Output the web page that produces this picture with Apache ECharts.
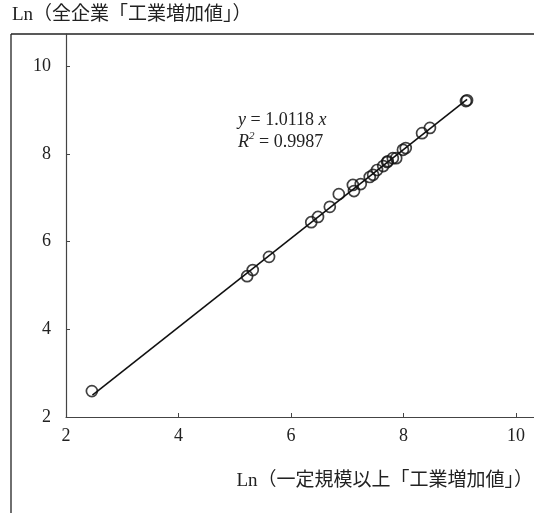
<!DOCTYPE html>
<html><head><meta charset="utf-8">
<script src="https://cdn.jsdelivr.net/npm/echarts@6/dist/echarts.min.js"></script>
<style>html,body{margin:0;padding:0;background:#fff}#c{width:534px;height:513px}</style>
</head><body><div id="c"></div>
<script>
const xName = 'Ln（一定規模以上「工業増加値」）';
const yName = 'Ln（全企業「工業増加値」）';
const xTicks = [2, 4, 6, 8, 10];
const yTicks = [2, 4, 6, 8, 10];
const points = [
  [2.46, 2.59], [5.22, 5.21], [5.32, 5.35], [5.61, 5.65], [6.36, 6.44],
  [6.48, 6.56], [6.69, 6.79], [6.85, 7.08], [7.10, 7.29], [7.12, 7.15],
  [7.24, 7.31], [7.40, 7.47], [7.46, 7.52], [7.53, 7.63], [7.64, 7.72],
  [7.71, 7.81], [7.72, 7.83], [7.81, 7.90], [7.87, 7.90], [7.99, 8.09],
  [8.04, 8.13], [8.33, 8.47], [8.47, 8.59], [9.11, 9.20], [9.13, 9.22]
];
const trendLine = [[2.47, 2.50], [9.13, 9.24]];
const serif = '"Liberation Serif", "Times New Roman", "Noto Sans CJK JP", serif';
const chart = echarts.init(document.getElementById('c'));
chart.setOption({
  animation: false,
  backgroundColor: '#fff',
  grid: {left: 66, right: 0, top: 34, bottom: 96},
  xAxis: {
    type: 'value', min: 2, max: 10.32, interval: 2,
    splitLine: {show: false},
    axisLine: {lineStyle: {color: '#444', width: 1.2}},
    axisTick: {inside: true, length: 4, customValues: xTicks, lineStyle: {color: '#444'}},
    axisLabel: {customValues: xTicks, fontFamily: serif, fontSize: 18, color: '#222', margin: 10}
  },
  yAxis: {
    type: 'value', min: 2, max: 10.73, interval: 2,
    splitLine: {show: false},
    axisLine: {show: true, lineStyle: {color: '#444', width: 1.2}},
    axisTick: {show: true, inside: true, length: 4, customValues: yTicks, lineStyle: {color: '#444'}},
    axisLabel: {customValues: yTicks, fontFamily: serif, fontSize: 18, color: '#222', margin: 15}
  },
  graphic: [
    {type: 'line', shape: {x1: 11, y1: 34, x2: 534, y2: 34}, style: {stroke: '#222', lineWidth: 1.3}},
    {type: 'line', shape: {x1: 11, y1: 34, x2: 11, y2: 513}, style: {stroke: '#222', lineWidth: 1.3}},
    {type: 'text', left: 12, top: 6, style: {text: yName, font: '19px ' + serif, fill: '#222'}},
    {type: 'text', right: 1, top: 472, style: {text: xName, font: '19px ' + serif, fill: '#222'}},
    {type: 'text', left: 238, top: 109, style: {
      text: '{i|y} = 1.0118 {i|x}\n{i|R}{s|2} = 0.9987',
      font: '18px ' + serif, fill: '#222', lineHeight: 22,
      rich: {i: {fontStyle: 'italic', fontFamily: serif, fontSize: 18},
             s: {fontStyle: 'italic', fontFamily: serif, fontSize: 11, verticalAlign: 'top', padding: [0, 0, 6, 0]}}
    }}
  ],
  series: [
    {type: 'line', data: trendLine, symbol: 'none', lineStyle: {color: '#111', width: 1.6}, z: 2},
    {type: 'scatter', data: points, symbol: 'circle', symbolSize: 11,
     itemStyle: {color: 'rgba(255,255,255,0)', borderColor: '#111', borderWidth: 1.7}, z: 3}
  ]
});
</script></body></html>
